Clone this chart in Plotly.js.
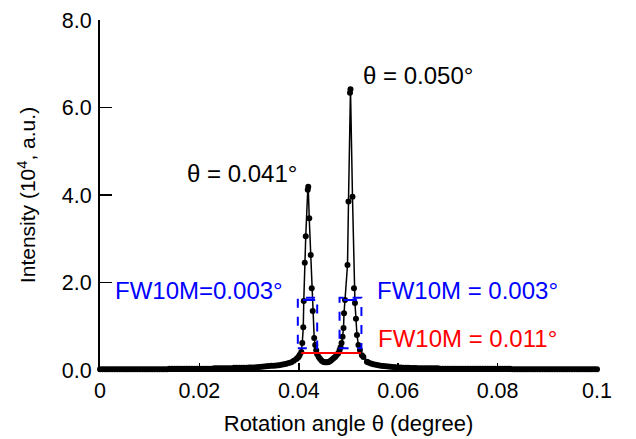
<!DOCTYPE html>
<html>
<head>
<meta charset="utf-8">
<script src="https://cdn.plot.ly/plotly-3.0.1.min.js"></script>
<style>html,body{margin:0;padding:0;background:#fff;}#chart{width:636px;height:439px;}</style>
</head>
<body>
<div id="chart"></div>
<script>
// Rotation angle (degree) and intensity (10^4 a.u.)
const angleLeftBase = [0,0.0005,0.001,0.0015,0.002,0.0025,0.003,0.0035,0.004,0.0045,0.005,0.0055,0.006,0.0065,
  0.007,0.0075,0.008,0.0085,0.009,0.0095,0.01,0.0105,0.011,0.0115,0.012,0.0125,0.013,0.0135,
  0.014,0.0145,0.015,0.0155,0.016,0.0165,0.017,0.0175,0.018,0.0185,0.019,0.0195,0.02,0.0205,0.021,0.0215,0.022,0.0225,
  0.023,0.0235,0.024,0.0245,0.025,0.0255,0.026,0.0265,
  0.027,0.0275,0.028,0.0285,0.029,0.0295,
  0.03,0.0305,0.031,0.0315,0.032,0.0325,0.033,0.0335,0.034,0.0345,0.035,0.0355,0.036,0.0365,0.037,0.0375,
  0.038,0.0385,0.039,0.0395,0.0398,0.04,0.0402];
const intLeftBase = [0.02,0.02,0.02,0.02,0.02,0.02,0.02,0.02,0.02,0.02,0.02,0.02,0.02,0.02,
  0.02,0.02,0.02,0.02,0.02,0.02,0.02,0.02,0.02,0.02,0.02,0.02,0.02,0.02,
  0.03,0.03,0.03,0.03,0.03,0.03,0.03,0.03,0.03,0.03,0.03,0.03,0.03,0.03,0.03,0.03,0.03,0.03,
  0.04,0.04,0.04,0.04,0.04,0.04,0.04,0.04,
  0.05,0.05,0.05,0.05,0.05,0.05,
  0.06,0.06,0.06,0.065,0.07,0.075,0.08,0.085,0.09,0.095,0.10,0.105,0.11,0.12,0.13,0.145,
  0.16,0.18,0.21,0.25,0.28,0.31,0.35];
const anglePeak1 = [0.0405,0.0407,0.0409,0.0410,0.0412,0.0414,0.0418,0.0419,0.0421,0.0424,0.0426,0.0428,0.0431,0.0433,0.0435,0.0437];
const intPeak1   = [0.41,0.62,0.98,1.58,2.45,3.06,4.12,4.19,3.47,2.63,1.87,1.35,0.73,0.57,0.45,0.36];
const angleDip = [0.0440,0.0443,0.0446,0.0449,0.0452,0.0455,0.0458,0.0461,0.0464,0.0467,0.0470,0.0473,0.0476,0.0479,0.0482,0.0484];
const intDip   = [0.30,0.25,0.21,0.19,0.18,0.18,0.18,0.19,0.21,0.24,0.27,0.30,0.34,0.38,0.45,0.52];
const anglePeak2 = [0.0486,0.0488,0.0490,0.0491,0.0493,0.0498,0.0500,0.0503,0.0504,0.0508,0.0511,0.0513,0.0515,0.0517,0.0520,0.0523,0.0527,0.0530,0.0537];
const intPeak2   = [0.62,0.76,0.96,1.30,1.60,2.40,3.85,6.34,6.42,3.96,1.87,1.53,1.17,0.80,0.57,0.46,0.34,0.30,0.19];
const angleRightBase = [0.054,0.0545,0.055,0.0555,0.056,0.0565,0.057,0.0575,0.058,0.0585,0.059,0.0595,0.06,0.0605,0.061,0.0615,0.062,
  0.0625,0.063,0.0635,0.064,0.0645,0.065,0.0655,0.066,0.0665,0.067,0.0675,0.068,
  0.0685,0.069,0.0695,0.07,0.0705,0.071,0.0715,0.072,0.0725,0.073,0.0735,0.074,0.0745,0.075,0.0755,0.076,0.0765,0.077,0.0775,0.078,0.0785,0.079,0.0795,0.08,0.0805,0.081,0.0815,0.082,0.0825,
  0.083,0.0835,0.084,0.0845,0.085,0.0855,0.086,0.0865,0.087,0.0875,0.088,0.0885,0.089,0.0895,0.09,0.0905,0.091,0.0915,0.092,0.0925,0.093,0.0935,0.094,0.0945,0.095,0.0955,0.096,0.0965,0.097,0.0975,0.098,0.0985,0.099,0.0995,0.1];
const intRightBase = [0.17,0.15,0.13,0.12,0.11,0.10,0.09,0.085,0.08,0.075,0.07,0.065,0.06,0.055,0.05,0.05,0.05,
  0.045,0.045,0.045,0.04,0.04,0.04,0.04,0.04,0.04,0.04,0.04,0.04,
  0.03,0.03,0.03,0.03,0.03,0.03,0.03,0.03,0.03,0.03,0.03,0.03,0.03,0.03,0.03,0.03,0.03,0.03,0.03,0.03,0.03,0.03,0.03,0.03,0.03,0.03,0.03,0.03,0.03,
  0.02,0.02,0.02,0.02,0.02,0.02,0.02,0.02,0.02,0.02,0.02,0.02,0.02,0.02,0.02,0.02,0.02,0.02,0.02,0.02,0.02,0.02,0.02,0.02,0.02,0.02,0.02,0.02,0.02,0.02,0.02,0.02,0.02,0.02,0.02];

// FW10M markers (data coordinates)
const boxX0 = [0.0398, 0.0482];
const boxX1 = [0.0437, 0.0526];
const boxY = [0.50, 1.65];
const fwLineX0 = [0.0408, 0.0490];
const fwLineX1 = [0.0433, 0.0517];
const fwLineY = 1.60;
const redLine = {x0: 0.0405, x1: 0.0525, y: 0.39};

const labels = [
  {text: 'θ = 0.041°', x: 0.0286, y: 4.5, color: '#000000'},
  {text: 'θ = 0.050°', x: 0.0640, y: 6.74, color: '#000000'},
  {text: 'FW10M=0.003°', x: 0.0200, y: 1.81, color: '#0000ff'},
  {text: 'FW10M = 0.003°', x: 0.0739, y: 1.81, color: '#0000ff'},
  {text: 'FW10M = 0.011°', x: 0.0739, y: 0.71, color: '#ff0000'}
];

const xs = angleLeftBase.concat(anglePeak1, angleDip, anglePeak2, angleRightBase);
const ys = intLeftBase.concat(intPeak1, intDip, intPeak2, intRightBase);

const FONT = 'Arial, "Liberation Sans", sans-serif';

const shapes = [];
for (let i = 0; i < 2; i++) {
  shapes.push({type: 'rect', xref: 'x', yref: 'y', x0: boxX0[i], x1: boxX1[i], y0: boxY[0], y1: boxY[1],
    line: {color: '#0000ff', width: 2, dash: 'dash'}});
  shapes.push({type: 'line', xref: 'x', yref: 'y', x0: fwLineX0[i], x1: fwLineX1[i], y0: fwLineY, y1: fwLineY,
    line: {color: '#0000ff', width: 2}});
}
shapes.push({type: 'line', xref: 'x', yref: 'y', x0: redLine.x0, x1: redLine.x1, y0: redLine.y, y1: redLine.y,
  line: {color: '#ff0000', width: 2}});

const data = [{
  x: xs, y: ys, type: 'scatter', mode: 'lines+markers',
  line: {color: '#000000', width: 1.5},
  marker: {color: '#000000', size: 6},
  cliponaxis: false, showlegend: false
}];

const layout = {
  width: 636, height: 439,
  margin: {l: 100, r: 39, t: 20, b: 69},
  paper_bgcolor: '#ffffff', plot_bgcolor: '#ffffff',
  font: {family: FONT, size: 21, color: '#000000'},
  showlegend: false,
  xaxis: {
    range: [0, 0.1], dtick: 0.02, tick0: 0,
    showline: true, linecolor: '#000000', linewidth: 2,
    ticks: 'inside', ticklen: 7, tickwidth: 1.5, tickcolor: '#000000',
    showgrid: false, zeroline: false,
    tickfont: {family: FONT, size: 21.5, color: '#000000'},
    title: {text: 'Rotation angle θ (degree)', font: {family: FONT, size: 22, color: '#000000'}, standoff: 14}
  },
  yaxis: {
    range: [0, 8], dtick: 2, tick0: 0, tickformat: '.1f',
    showline: true, linecolor: '#000000', linewidth: 2,
    ticks: 'inside', ticklen: 12, tickwidth: 1.5, tickcolor: '#000000',
    showgrid: false, zeroline: false, ticklabelstandoff: 2,
    tickfont: {family: FONT, size: 21.5, color: '#000000'},
    title: {text: 'Intensity (10<sup>4</sup>, a.u.)', font: {family: FONT, size: 21, color: '#000000'}, standoff: 20}
  },
  shapes: shapes,
  annotations: labels.map(l => ({
    text: l.text, x: l.x, y: l.y, xref: 'x', yref: 'y', showarrow: false,
    font: {family: FONT, size: 24, color: l.color}, xanchor: 'center', yanchor: 'middle'
  }))
};

Plotly.newPlot('chart', data, layout, {displayModeBar: false, staticPlot: true});
</script>
</body>
</html>
